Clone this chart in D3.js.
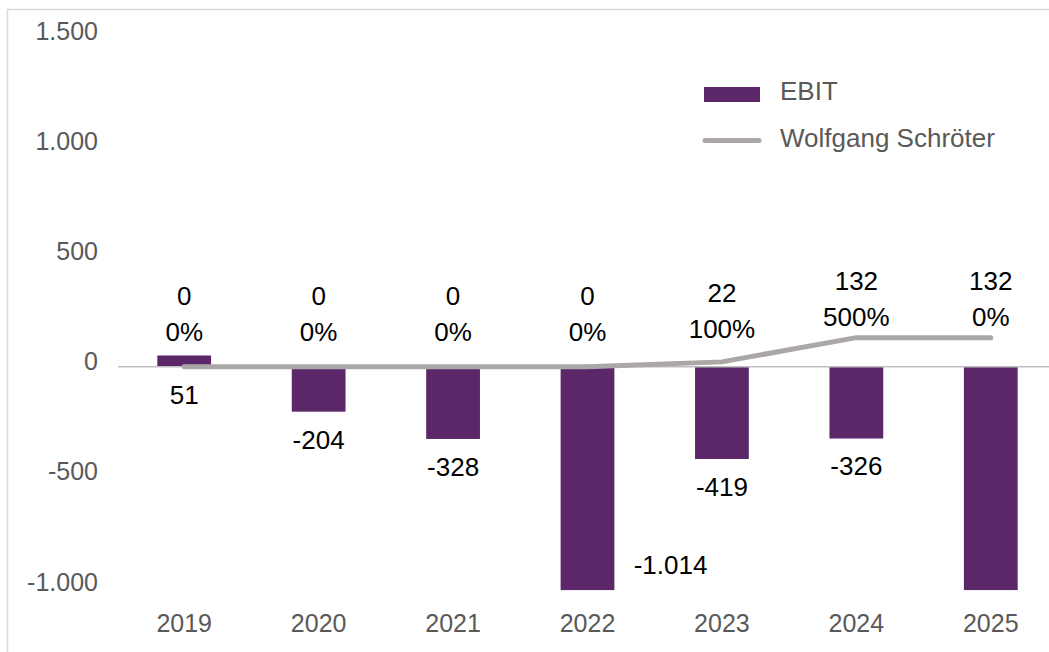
<!DOCTYPE html>
<html>
<head>
<meta charset="utf-8">
<script src="https://cdn.jsdelivr.net/npm/d3@7"></script>
<style>
  body { margin: 0; background: #fff; }
  svg text { font-family: "Liberation Sans", Arial, sans-serif; }
</style>
</head>
<body>
<div id="chart-area"></div>
<script>
// data
var years = ["2019", "2020", "2021", "2022", "2023", "2024", "2025"];
var ebit = [51, -204, -328, -1014, -419, -326, -1014];
var ebitLabels = ["51", "-204", "-328", "-1.014", "-419", "-326", null];
var schroeter = [0, 0, 0, 0, 22, 132, 132];
var schroeterPct = ["0%", "0%", "0%", "0%", "100%", "500%", "0%"];
var yTicks = [1500, 1000, 500, 0, -500, -1000];
var legendNames = ["EBIT", "Wolfgang Schröter"];

var W = 1049, H = 652;
var barColor = "#5b2769", lineColor = "#aba7a7", axisText = "#595959";

var svg = d3.select("#chart-area").append("svg")
    .attr("width", W).attr("height", H);

// frame
svg.append("path")
    .attr("d", "M7.5," + H + "V9.5H" + W)
    .attr("fill", "none").attr("stroke", "#d9d9d9").attr("stroke-width", 1.5);

var x = d3.scaleBand().domain(years).range([117, 1058]).paddingInner(0.6).paddingOuter(0.3);
var y = d3.scaleLinear().domain([-1000, 1500]).range([587, 36.3]);

// german style thousands, plain hyphen
var fmt = function(v) { return d3.format(",")(Math.abs(v)).replace(/,/g, ".").replace(/^/, v < 0 ? "-" : ""); };

// y tick labels
svg.append("g").selectAll("text")
    .data(yTicks)
    .join("text")
        .attr("x", 98)
        .attr("y", d => y(d) - 3)
        .attr("text-anchor", "end")
        .attr("dominant-baseline", "middle")
        .attr("fill", axisText)
        .attr("font-size", 25)
        .text(d => fmt(d));

// x labels
svg.append("g").selectAll("text")
    .data(years)
    .join("text")
        .attr("x", d => x(d) + x.bandwidth() / 2)
        .attr("y", 625)
        .attr("text-anchor", "middle")
        .attr("dominant-baseline", "middle")
        .attr("fill", axisText)
        .attr("font-size", 25)
        .text(d => d);

// bars
svg.append("g").selectAll("rect")
    .data(ebit)
    .join("rect")
        .attr("x", (d, i) => x(years[i]))
        .attr("width", x.bandwidth())
        .attr("y", d => y(Math.max(d, 0)))
        .attr("height", d => Math.abs(y(d) - y(0)))
        .attr("fill", barColor);

// zero line
svg.append("line")
    .attr("x1", 118).attr("x2", W)
    .attr("y1", y(0)).attr("y2", y(0))
    .attr("stroke", "#bfbfbf").attr("stroke-width", 1.5);

// line series
var line = d3.line()
    .x((d, i) => x(years[i]) + x.bandwidth() / 2)
    .y(d => y(d));

svg.append("path")
    .datum(schroeter)
    .attr("d", line)
    .attr("fill", "none")
    .attr("stroke", lineColor)
    .attr("stroke-width", 5)
    .attr("stroke-linecap", "round")
    .attr("stroke-linejoin", "round");

// bar labels
svg.append("g").selectAll("text")
    .data(ebit.map((v, i) => ({ v: v, i: i, t: ebitLabels[i] })).filter(d => d.t))
    .join("text")
        .attr("x", d => {
            var cx = x(years[d.i]) + x.bandwidth() / 2;
            return y(Math.min(d.v, 0)) + 30 > 600 ? cx + 83 : cx;
        })
        .attr("y", d => {
            var yy = y(Math.min(d.v, 0)) + 30;
            return yy > 600 ? y(Math.min(d.v, 0)) - 23 : yy;
        })
        .attr("text-anchor", "middle")
        .attr("dominant-baseline", "middle")
        .attr("fill", "#000")
        .attr("font-size", 26)
        .text(d => d.t);

// line labels (value + pct)
var lineLab = svg.append("g").selectAll("g")
    .data(schroeter)
    .join("g")
        .attr("transform", (d, i) => {
            var py = y(0) - 33 - 0.5 * (y(0) - y(d));
            return "translate(" + (x(years[i]) + x.bandwidth() / 2) + "," + py + ")";
        });

lineLab.append("text")
    .attr("y", -36)
    .attr("text-anchor", "middle")
    .attr("dominant-baseline", "middle")
    .attr("font-size", 26)
    .text(d => fmt(d));

lineLab.append("text")
    .attr("y", 0)
    .attr("text-anchor", "middle")
    .attr("dominant-baseline", "middle")
    .attr("font-size", 26)
    .text((d, i) => schroeterPct[i]);

// legend
var leg = svg.append("g");
leg.append("rect")
    .attr("x", 704).attr("y", 87).attr("width", 56).attr("height", 15)
    .attr("fill", barColor);
leg.append("line")
    .attr("x1", 705).attr("x2", 759).attr("y1", 140.5).attr("y2", 140.5)
    .attr("stroke", lineColor).attr("stroke-width", 5).attr("stroke-linecap", "round");
leg.selectAll("text")
    .data(legendNames)
    .join("text")
        .attr("x", 780)
        .attr("y", (d, i) => 93 + i * 47)
        .attr("dominant-baseline", "middle")
        .attr("fill", axisText)
        .attr("font-size", 26)
        .text(d => d);
</script>
</body>
</html>
